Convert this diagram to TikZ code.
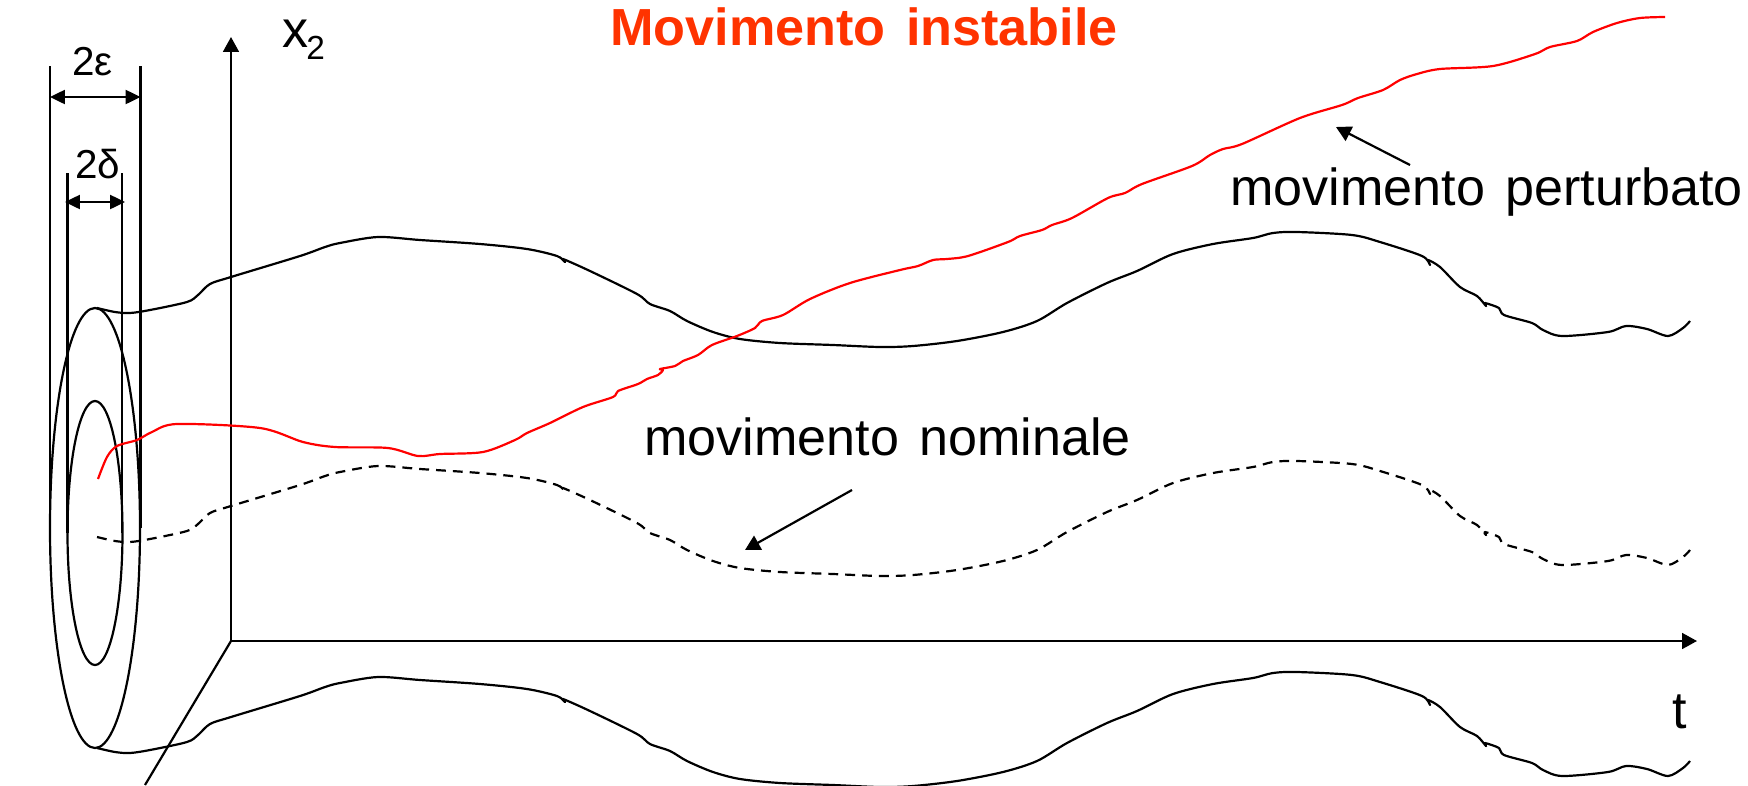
\documentclass[tikz,border=0pt]{standalone}
\usepackage{fontspec}
\setmainfont[WordSpace=1.4]{Liberation Sans}
\usetikzlibrary{arrows.meta}
\definecolor{ffqqqq}{rgb}{1,0,0}
\definecolor{ffzzqq}{rgb}{1,0.2,0}
% the nominal motion, drawn three times with a shift
\newcommand{\nominalcurve}{(97,308) (115,312) (130,313) (150,310) (187,302) (198,295) (210,284) (231,277) (300,256) (325,247) (340,243) (378,237) (420,240) (480,244) (527,249) (557,256) (565,262) (563,259) (590,271) (637,294) (650,304) (670,311) (687,321) (713,332) (740,339) (780,343) (833,345) (880,347) (913,346) (957,341) (1003,332) (1037,321) (1067,303) (1107,283) (1137,271) (1173,254) (1213,244) (1253,238) (1273,233) (1297,232) (1352,235) (1380,242) (1422,256) (1430,265) (1428,260) (1440,267) (1460,287) (1477,296) (1486,306) (1485,303) (1499,308) (1504,315) (1532,323) (1543,330) (1562,336) (1608,332) (1626,326) (1647,329) (1668,336) (1683,328) (1690,321)}
\tikzset{
  line/.style={line width=1.25pt},
  curve/.style={line width=1.25pt,smooth,tension=0.5},
  dim/.style={line width=1.2pt,{Triangle[length=8.5pt,width=8pt]}-{Triangle[length=8.5pt,width=8pt]}},
  label/.style={anchor=base west,inner sep=0pt,font=\fontsize{29.65pt}{36pt}\selectfont},
  small label/.style={anchor=base west,inner sep=0pt,font=\fontsize{23pt}{28pt}\selectfont},
}
\begin{document}
\begin{tikzpicture}[line cap=butt,line join=round,>={Triangle[length=8.5pt,width=9pt]},x=0.02cm,y=-0.02cm]
        \useasboundingbox (0,0) rectangle (1748,785);
        % title and labels
        \node[label,font=\fontsize{29.7pt}{36pt}\selectfont\bfseries,color=ffzzqq] (title) at (610,45) {Movimento instabile};
        \node[label] (xtwo) at (282,47) {x\kern-1.2pt\raisebox{-7pt}{\fontsize{19pt}{22pt}\selectfont 2}};
        \node[label] (tlabel) at (1672,728) {t};
        \node[label] (nominale) at (644,455) {movimento nominale};
        \node[label] (perturbato) at (1230,205) {movimento perturbato};
        \node[small label] (eps) at (72,75) {2ε};
        \node[small label] (del) at (75,178) {2δ};
        % axes
        \coordinate (orig) at (231,641);
        \coordinate (ytip) at (231,37);
        \coordinate (ttip) at (1697,641);
        \coordinate (oblique) at (145,785);
        \draw[->,line] (orig) -- (ytip);
        \draw[->,line] (orig) -- (ttip);
        \draw[line] (orig) -- (oblique);
        % tube sections and their widths
        \coordinate (outer) at (95,528);
        \coordinate (inner) at (95,533);
        \draw[line] (outer) ellipse [x radius=45, y radius=220];
        \draw[line] (inner) ellipse [x radius=27.5, y radius=132];
        \foreach \x in {50,140.5}
        \draw[line] (\x,66) -- (\x,528);
        \foreach \x in {67.5,122}
        \draw[line] (\x,173) -- (\x,533);
        \coordinate (epsl) at (50,97);
        \coordinate (epsr) at (140.5,97);
        \coordinate (dell) at (65,202);
        \coordinate (delr) at (125,202);
        \draw[dim] (epsl) -- (epsr);
        \draw[dim] (dell) -- (delr);
        % motions
        \foreach \dy in {0,440}
        \draw[curve,shift={(0,\dy)}] plot coordinates {\nominalcurve};
        \draw[curve,shift={(0,229)},dash pattern=on 5.6pt off 4pt] plot coordinates {\nominalcurve};
        \draw[curve,color=ffqqqq] plot coordinates {(98,479) (107,457) (117,446) (137,440) (152,432) (177,424) (260,428) (303,442) (335,447) (388,448) (418,456) (440,454) (483,452) (515,440) (527,433) (550,423) (583,407) (613,397) (618,391) (638,384) (647,379) (658,375) (663,370) (660,369) (675,366) (683,361) (698,355) (712,345) (737,336) (755,328) (762,321) (783,315) (810,299) (850,283) (900,270) (918,266) (933,260) (947,259) (968,256) (1008,242) (1020,236) (1042,230) (1052,225) (1072,218) (1108,198) (1125,193) (1142,184) (1192,166) (1210,155) (1223,149) (1242,144) (1300,118) (1342,105) (1358,98) (1383,90) (1400,80) (1417,74) (1440,69) (1493,66) (1535,54) (1550,47) (1577,41) (1593,32) (1617,23) (1640,18) (1665,17)};
        % pointers to the motions
        \coordinate (nomfrom) at (852,490);
        \coordinate (nomto) at (745,550);
        \coordinate (perfrom) at (1410,165);
        \coordinate (perto) at (1336,127);
        \draw[->,line] (nomfrom) -- (nomto);
        \draw[->,line] (perfrom) -- (perto);
\end{tikzpicture}
\end{document}
